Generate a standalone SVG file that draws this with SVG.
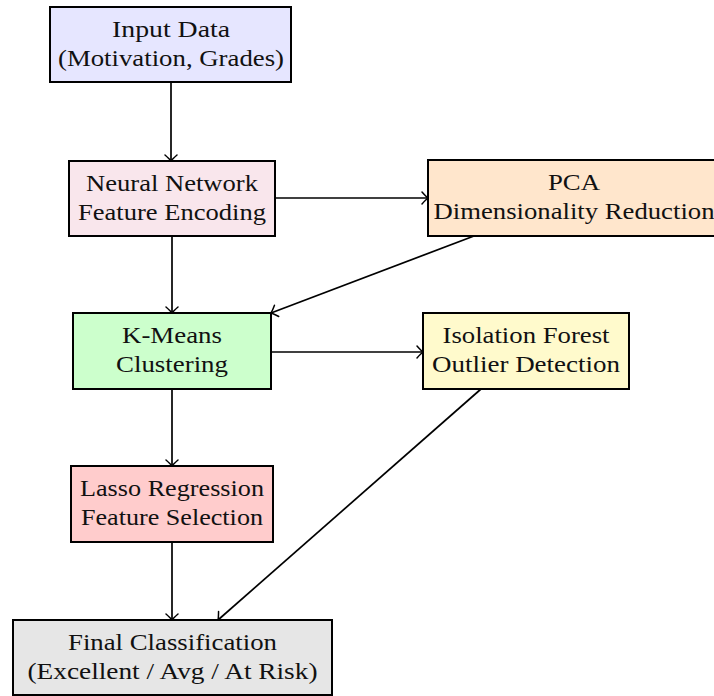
<svg xmlns="http://www.w3.org/2000/svg" width="714" height="696" viewBox="0 0 714 696">
<style>
.box{stroke:#000;stroke-width:2}
.t{font-family:"Liberation Serif","Times New Roman",serif;font-size:23px;fill:#111;text-anchor:middle}
.c{fill:none;stroke:#000;stroke-width:1.7}
</style>
<defs>
<marker id="ah" markerUnits="userSpaceOnUse" markerWidth="16" markerHeight="16" refX="0" refY="0" viewBox="-9 -8 11 16" orient="auto">
<path d="M-6,-6 Q-2,-1.5 0,0 Q-2,1.5 -6,6" fill="none" stroke="#000" stroke-width="1.5" stroke-linecap="round"/>
</marker>
</defs>
<rect width="714" height="696" fill="#fff"/>
<g id="connectors">
<path class="c" d="M171,82 L171,161" marker-end="url(#ah)"/>
<path class="c" d="M172,236 L172,313" marker-end="url(#ah)"/>
<path class="c" d="M275,198 L428,198" marker-end="url(#ah)"/>
<path class="c" d="M474,236 L271,313" marker-end="url(#ah)"/>
<path class="c" d="M271,352 L423,352" marker-end="url(#ah)"/>
<path class="c" d="M172,389 L172,466" marker-end="url(#ah)"/>
<path class="c" d="M172,542 L172,620" marker-end="url(#ah)"/>
<path class="c" d="M481,389 L218,620" marker-end="url(#ah)"/>
</g>
<g id="input">
<rect class="box" x="50" y="7" width="241" height="75" fill="#E6E6FF"/>
<text class="t" x="171" y="37" textLength="118" lengthAdjust="spacingAndGlyphs">Input Data</text>
<text class="t" x="171" y="66" textLength="226" lengthAdjust="spacingAndGlyphs">(Motivation, Grades)</text>
</g>
<g id="neural">
<rect class="box" x="69" y="161" width="206" height="75" fill="#F9E6EC"/>
<text class="t" x="172" y="191" textLength="172" lengthAdjust="spacingAndGlyphs">Neural Network</text>
<text class="t" x="172" y="220" textLength="188" lengthAdjust="spacingAndGlyphs">Feature Encoding</text>
</g>
<g id="pca">
<rect class="box" x="428" y="160" width="293" height="76" fill="#FFE6CC"/>
<text class="t" x="574" y="190" textLength="52" lengthAdjust="spacingAndGlyphs">PCA</text>
<text class="t" x="574" y="219" textLength="281" lengthAdjust="spacingAndGlyphs">Dimensionality Reduction</text>
</g>
<g id="kmeans">
<rect class="box" x="73" y="313" width="198" height="76" fill="#CCFFCC"/>
<text class="t" x="172" y="343" textLength="100" lengthAdjust="spacingAndGlyphs">K-Means</text>
<text class="t" x="172" y="372" textLength="112" lengthAdjust="spacingAndGlyphs">Clustering</text>
</g>
<g id="isolation">
<rect class="box" x="423" y="313" width="206" height="76" fill="#FFFACC"/>
<text class="t" x="526" y="343" textLength="167" lengthAdjust="spacingAndGlyphs">Isolation Forest</text>
<text class="t" x="526" y="372" textLength="188" lengthAdjust="spacingAndGlyphs">Outlier Detection</text>
</g>
<g id="lasso">
<rect class="box" x="71" y="466" width="202" height="76" fill="#FFCCCC"/>
<text class="t" x="172" y="496" textLength="184" lengthAdjust="spacingAndGlyphs">Lasso Regression</text>
<text class="t" x="172" y="525" textLength="182" lengthAdjust="spacingAndGlyphs">Feature Selection</text>
</g>
<g id="final">
<rect class="box" x="13" y="620" width="319" height="75" fill="#E6E6E6"/>
<text class="t" x="172.5" y="650" textLength="209" lengthAdjust="spacingAndGlyphs">Final Classification</text>
<text class="t" x="172.5" y="679" textLength="290" lengthAdjust="spacingAndGlyphs">(Excellent / Avg / At Risk)</text>
</g>
</svg>
